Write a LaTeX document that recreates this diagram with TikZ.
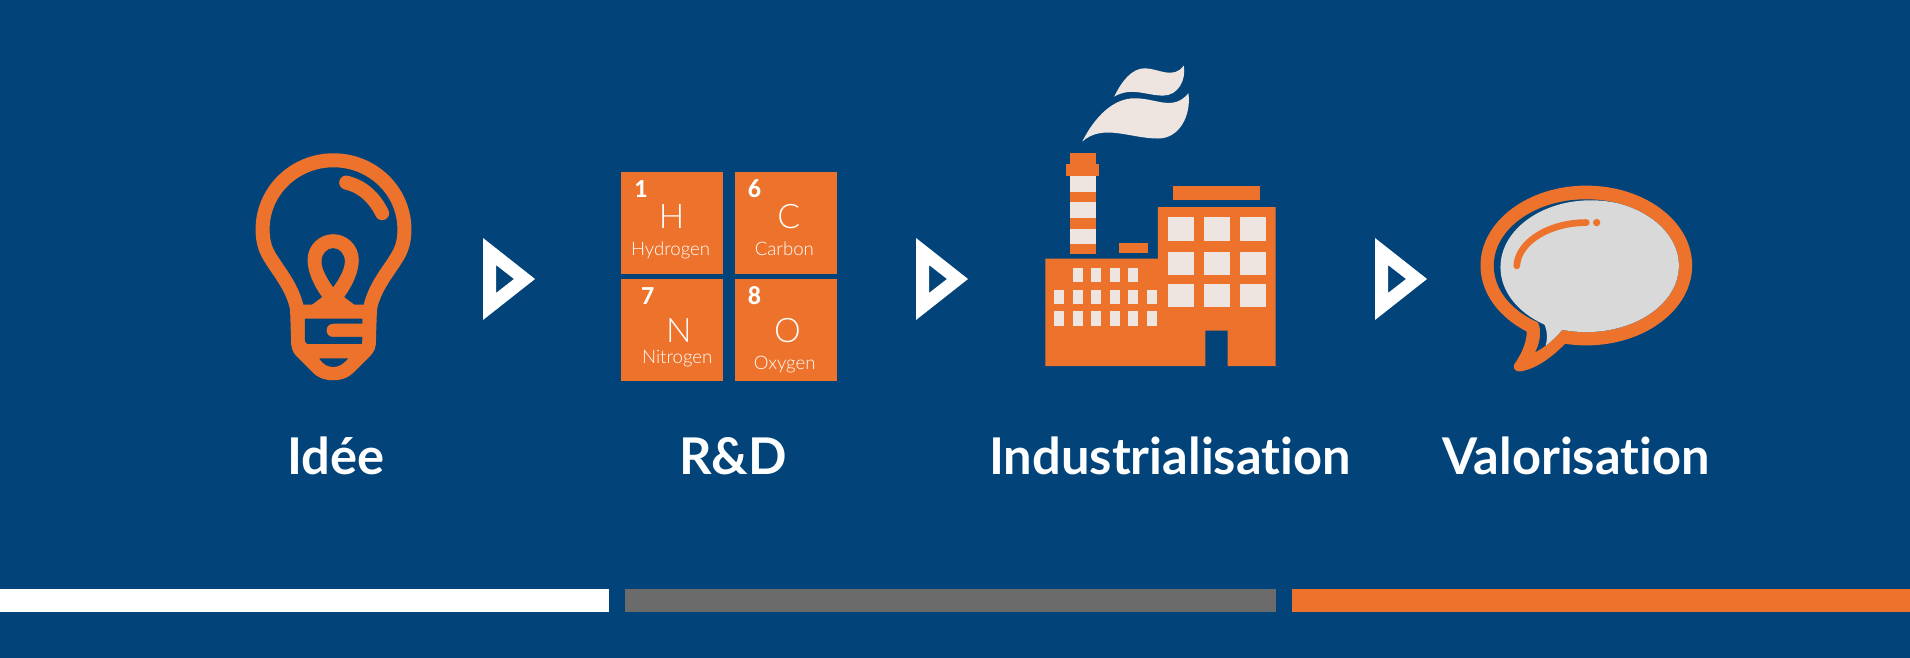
\documentclass[tikz,border=0pt]{standalone}
\usepackage{fontspec}
\usepackage{xcolor}
\usepackage{tikz}
\setmainfont{Lato}[Ligatures=NoCommon]
\newfontfamily\carlito{Carlito}
\newfontfamily\fin{Lato}[UprightFont=* Light,Ligatures=NoCommon]
\definecolor{fond}{RGB}{2,68,122}
\definecolor{orangefab}{RGB}{237,115,44}
\definecolor{clair}{RGB}{238,229,224}
\definecolor{grisbulle}{RGB}{217,217,217}
\definecolor{grisbarre}{RGB}{107,107,107}
\begin{document}
\begin{tikzpicture}[x=0.01cm,y=-0.01cm,
	titre/.style={anchor=base,text=white,font=\fontsize{14.4}{17}\selectfont\bfseries},
	numero/.style={anchor=base,text=white,font=\carlito\fontsize{7.4}{9}\selectfont\bfseries},
	symbole/.style={anchor=base,text=white,font=\fin\fontsize{9.6}{12}\selectfont},
	nomelt/.style={anchor=base,text=white,font=\fin\fontsize{5.3}{7}\selectfont},
	zoomed/.style={x=0.003333cm,y=-0.003333cm}]
	% Fond
	\fill [fond] (0,0) rectangle (1910,658);
	% Barres du bas
	\fill [white] (0,589) rectangle (609,612);
	\fill [grisbarre] (625,589) rectangle (1276,612);
	\fill [orangefab] (1292,589) rectangle (1910,612);
	% Triangles
	\foreach \x in {483,916,1375}
	\fill [white,even odd rule] (\x,238)--(\x,320)--(\x+52,279)--cycle (\x+13,265)--(\x+13,293)--(\x+31,279)--cycle;
	% Ampoule
	\begin{scope}[shift={(230,130)},zoomed]
		\draw [orangefab,line width=0.14cm] (203,550) -- (200,530) .. controls (185,470) and (150,430) .. (125,390) .. controls (105,360) and (98,335) .. (98,298) arc [start angle=180,end angle=360,x radius=213,y radius=207] .. controls (524,335) and (517,360) .. (497,390) .. controls (472,430) and (437,470) .. (422,530) -- (419,550);
		\draw [orangefab,line width=0.14cm,line cap=round] (349,158) .. controls (400,170) and (435,205) .. (457,250);
		\fill [orangefab] (180,525) -- (442,525) -- (438,645) .. controls (436,665) and (425,675) .. (415,685) -- (370,730) .. controls (350,748) and (330,752) .. (310,752) .. controls (290,752) and (270,748) .. (250,730) -- (205,685) .. controls (195,675) and (186,665) .. (184,645) -- cycle;
		\fill [orangefab] (240,530) -- (277,502) .. controls (250,465) and (233,425) .. (233,390) .. controls (233,345) and (270,313) .. (310,313) .. controls (350,313) and (387,345) .. (387,390) .. controls (387,425) and (370,465) .. (343,502) -- (380,530) -- cycle;
		\fill [fond] (310,472) .. controls (290,445) and (275,415) .. (275,395) .. controls (275,372) and (292,355) .. (310,355) .. controls (328,355) and (345,372) .. (345,395) .. controls (345,415) and (330,445) .. (310,472);
		\fill [fond] (225,567) -- (398,567) -- (398,582) -- (310,582) .. controls (298,582) and (290,590) .. (290,602) .. controls (290,614) and (298,622) .. (310,622) -- (398,622) -- (396,643) -- (232,643) .. controls (227,640) and (225,635) .. (225,630) -- cycle;
		\fill [fond] (268,686) -- (355,686) .. controls (340,705) and (325,712) .. (310,712) .. controls (295,712) and (280,705) .. (268,686);
	\end{scope}
	% Tableau
	\begin{scope}[shift={(600,160)},zoomed]
		\foreach \x in {64,405}
		\foreach \y in {37,358}
		\fill [orangefab] (\x,\y) rectangle (\x+306,\y+306);
		\node (num1) [numero] at (122,113) {1};
		\node (symH) [symbole] at (215,207) {H};
		\node (nomH) [nomelt] at (212,288) {Hydrogen};
		\node (num6) [numero] at (464,113) {6};
		\node (symC) [symbole] at (567,207) {C};
		\node (nomC) [nomelt] at (554,288) {Carbon};
		\node (num7) [numero] at (143,435) {7};
		\node (symN) [symbole] at (237,547) {N};
		\node (nomN) [nomelt] at (232,610) {Nitrogen};
		\node (num8) [numero] at (464,435) {8};
		\node (symO) [symbole] at (563,547) {O};
		\node (nomO) [nomelt] at (555,630) {Oxygen};
	\end{scope}
	% Usine
	\begin{scope}[shift={(1030,50)},zoomed]
		\fill [clair] (253,140) .. controls (275,95) and (305,55) .. (345,55) .. controls (385,55) and (430,90) .. (462,47) .. controls (470,90) and (445,137) .. (400,137) .. controls (350,137) and (305,110) .. (253,140);
		\fill [clair] (157,275) .. controls (195,200) and (250,145) .. (315,145) .. controls (380,145) and (430,185) .. (476,130) .. controls (485,195) and (450,266) .. (385,266) .. controls (300,266) and (220,220) .. (157,275);
		\fill [orangefab] (46,627) -- (384,627) -- (384,472) -- (738,472) -- (738,950) -- (594,950) -- (594,843) -- (527,843) -- (527,950) -- (46,950) -- cycle;
		\fill [orangefab] (431,409) rectangle (691,452);
		\fill [orangefab] (268,581) rectangle (355,609);
		\fill [clair] (121,380) rectangle (197,612);
		\fill [orangefab] (121,311) rectangle (197,342);
		\fill [orangefab] (109,342) rectangle (207,380);
		\foreach \y/\h in {427/31,506/31,584/28}
		\fill [orangefab] (121,\y) rectangle (197,\y+\h);
		\foreach \x in {128,183,239,295}
		\fill [clair] (\x,655) rectangle (\x+30,698);
		\foreach \x in {72,128,183,239,295,351}
		\foreach \y in {721,785}
		\fill [clair] (\x,\y) rectangle (\x+30,\y+43);
		\foreach \x in {415,523,630}
		\foreach \y in {502,606,702}
		\fill [clair] (\x,\y) rectangle (\x+78,\y+71);
	\end{scope}
	% Bulle
	\begin{scope}[shift={(1360,170)},zoomed]
		\fill [orangefab] (680,287) ellipse [x radius=318,y radius=240];
		\fill [orangefab] (500,470) .. controls (505,510) and (490,545) .. (463,585) .. controls (458,598) and (470,607) .. (482,605) .. controls (530,598) and (580,560) .. (618,520) -- cycle;
		\fill [fond] (680,287.5) ellipse [x radius=278,y radius=199.5];
		\fill [fond] (525,445) .. controls (548,465) and (545,510) .. (527,547) .. controls (560,530) and (585,505) .. (600,489) -- (640,440) -- cycle;
		\begin{scope}
			\clip (680,287.5) ellipse [x radius=278,y radius=199.5];
			\fill [grisbulle] (694,292) ellipse [x radius=272,y radius=201];
		\end{scope}
		\fill [grisbulle] (545,450) .. controls (562,470) and (565,500) .. (558,528) .. controls (575,515) and (590,500) .. (600,489) -- (640,440) -- cycle;
		\draw [orangefab,line width=0.067cm,line cap=round] (471,288) .. controls (475,215) and (570,158) .. (680,158);
		\fill [orangefab] (711,158) circle [radius=11];
	\end{scope}
	% Titres
	\node (idee) [titre] at (336,474) {Idée};
	\node (rd) [titre] at (733,474) {R\&D};
	\node (indus) [titre] at (1170,474) {Industrialisation};
	\node (valo) [titre] at (1576,474) {Valorisation};
\end{tikzpicture}
\end{document}
